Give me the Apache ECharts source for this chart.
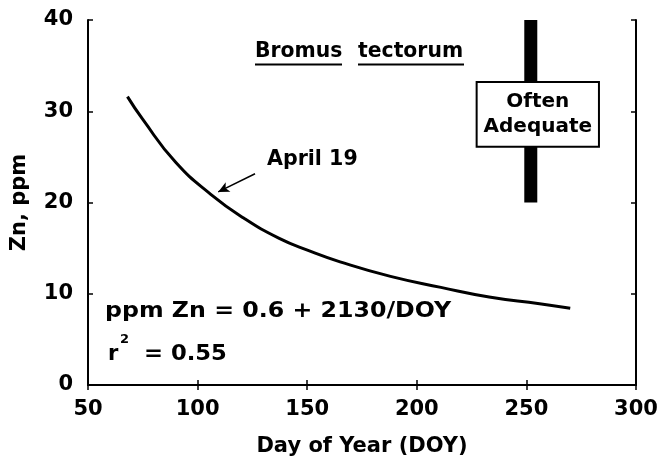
<!DOCTYPE html>
<html>
<head>
<meta charset="utf-8">
<script src="https://cdn.jsdelivr.net/npm/echarts@6/dist/echarts.min.js"></script>
<style>html,body{margin:0;padding:0;background:#fff}#c{width:661px;height:462px}</style>
</head>
<body>
<div id="c"></div>
<script>
// Fitted curve
const doy = [68, 75, 90, 106, 121, 137, 151, 165, 188, 211, 233, 256, 270];
const znPpm = [31.6, 29.1, 24.4, 20.9, 18.3, 16.1, 14.7, 13.5, 11.9, 10.7, 9.65, 8.9, 8.4];
// "Often adequate" bar and its label box
const adequateDoy = 252;
const adequateRange = [20, 40];
const boxX = [227.3, 283.1];
const boxY = [26.1, 33.2];
// Arrow for April 19 (value coords)
const arrowFrom = [126.2, 23.15];
const arrowTo = [109.4, 21.16];
// Axes
const xTicks = [50, 100, 150, 200, 250, 300];
const yTicks = [0, 10, 20, 30, 40];

const FONT = 'DejaVu Sans';
const chart = echarts.init(document.getElementById('c'), null, {renderer: 'canvas'});
const curve = doy.map((d, i) => [d, znPpm[i]]);
const barLow = [[adequateDoy, adequateRange[0]], [adequateDoy, boxY[0]]];
const barHigh = [[adequateDoy, boxY[1]], [adequateDoy, adequateRange[1]]];

const axisCommon = {
  axisLine: {show: true, lineStyle: {color: '#000', width: 2}},
  axisTick: {show: true, inside: true, length: 5, lineStyle: {color: '#000', width: 1.5}},
  splitLine: {show: false}
};
const labelStyle = {fontFamily: FONT, fontSize: 21, fontWeight: 'bold', color: '#000'};

function txt(text, left, top, sx, size) {
  return {
    type: 'text', left: left, top: top, scaleX: sx,
    style: {text: text, fontFamily: FONT, fontSize: size || 21, fontWeight: 'bold', fill: '#000'}
  };
}

chart.setOption({
  backgroundColor: '#fff',
  animation: false,
  grid: {left: 88, right: 25, top: 20, bottom: 74},
  xAxis: [
    Object.assign({
      type: 'value', min: xTicks[0], max: xTicks[xTicks.length - 1], interval: 50, position: 'bottom',
      name: 'Day of Year (DOY)', nameLocation: 'middle', nameGap: 51,
      nameTextStyle: labelStyle,
      axisLabel: Object.assign({margin: 14}, labelStyle)
    }, axisCommon),
    Object.assign({
      type: 'value', min: xTicks[0], max: xTicks[xTicks.length - 1], interval: 50, position: 'top',
      axisLabel: {show: false}
    }, axisCommon)
  ],
  yAxis: [
    Object.assign({
      type: 'value', min: yTicks[0], max: yTicks[yTicks.length - 1], interval: 10, position: 'left',
      name: 'Zn, ppm', nameLocation: 'middle', nameGap: 58,
      nameTextStyle: labelStyle,
      axisLabel: Object.assign({margin: 15}, labelStyle)
    }, axisCommon),
    Object.assign({
      type: 'value', min: yTicks[0], max: yTicks[yTicks.length - 1], interval: 10, position: 'right',
      axisLabel: {show: false}
    }, axisCommon)
  ],
  series: [
    {
      type: 'line', data: curve, smooth: true, symbol: 'none', z: 3,
      lineStyle: {color: '#000', width: 3},
      markLine: {
        silent: true, symbol: ['none', 'arrow'], symbolSize: [8, 11],
        lineStyle: {color: '#000', width: 1.5, type: 'solid'},
        label: {show: false},
        data: [[{coord: arrowFrom}, {coord: arrowTo}]]
      }
    },
    {
      type: 'line', data: barLow, symbol: 'none', z: 2,
      lineStyle: {color: '#000', width: 13, cap: 'butt'}
    },
    {
      type: 'line', data: barHigh, symbol: 'none', z: 2,
      lineStyle: {color: '#000', width: 13, cap: 'butt'},
      markArea: {
        silent: true,
        itemStyle: {color: '#fff', borderColor: '#000', borderWidth: 2, opacity: 1},
        label: {
          show: true, position: 'inside', formatter: 'Often\nAdequate',
          fontFamily: FONT, fontSize: 20, fontWeight: 'bold', color: '#000', lineHeight: 25, padding: [0, 0, 6, 0]
        },
        data: [[{coord: [boxX[0], boxY[1]]}, {coord: [boxX[1], boxY[0]]}]]
      }
    }
  ],
  graphic: [
    txt('Bromus', 255, 41, 0.97),
    txt('tectorum', 358, 41, 0.97),
    {type: 'line', shape: {x1: 255, y1: 64.5, x2: 342, y2: 64.5}, style: {stroke: '#000', lineWidth: 2}},
    {type: 'line', shape: {x1: 358, y1: 64.5, x2: 464, y2: 64.5}, style: {stroke: '#000', lineWidth: 2}},
    txt('April 19', 267, 149, 0.98),
    txt('ppm Zn = 0.6 + 2130/DOY', 105, 301, 1.128),
    txt('r', 108, 344, 1),
    txt('2', 120, 333, 1, 13),
    txt('= 0.55', 144, 344, 1.08)
  ]
});
</script>
</body>
</html>
